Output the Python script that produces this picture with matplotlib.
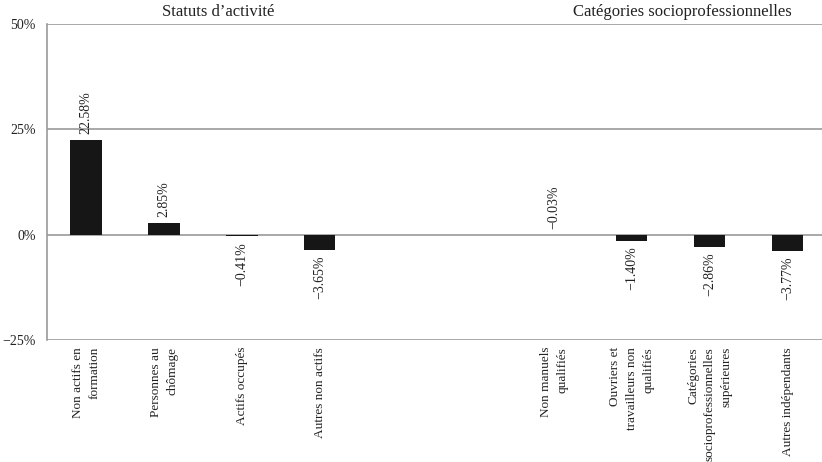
import matplotlib
matplotlib.use("Agg")
import matplotlib.pyplot as plt

categories = ["Non actifs en\nformation", "Personnes au\nchômage", "Actifs occupés", "Autres non actifs",
              "", "",
              "Non manuels\nqualifiés", "Ouvriers et\ntravailleurs non\nqualifiés",
              "Catégories\nsocioprofessionnelles\nsupérieures", "Autres indépendants"]
values = [22.58, 2.85, -0.41, -3.65, None, None, -0.03, -1.40, -2.86, -3.77]
value_labels = ["22.58%", "2.85%", "−0.41%", "−3.65%", "", "", "−0.03%", "−1.40%", "−2.86%", "−3.77%"]
group_titles = ["Statuts d’activité", "Catégories socioprofessionnelles"]
yticks = [-25, 0, 25, 50]
ytick_labels = ["−25%", "0%", "25%", "50%"]

plt.rcParams['font.family'] = ['Liberation Serif', 'DejaVu Serif']

fig = plt.figure(figsize=(8.22, 4.62), dpi=100)
ax = fig.add_axes([0.0572, 0.264, 0.9428, 0.684])

xs = [i for i, v in enumerate(values) if v is not None]
vs = [v for v in values if v is not None]
ax.bar(xs, vs, width=0.4, color="#161616", zorder=3)

for i, v in enumerate(values):
    if v is None:
        continue
    if v >= -0.05:
        ax.annotate(value_labels[i], (i, max(v, 0)), xytext=(0, 4), textcoords="offset points",
                    rotation=90, ha="center", va="bottom", fontsize=10, color="#222222")
    else:
        ax.annotate(value_labels[i], (i, v), xytext=(0, -4), textcoords="offset points",
                    rotation=90, ha="center", va="top", fontsize=10, color="#222222")

ax.set_xlim(-0.5, 9.44)
ax.set_ylim(-25, 50)
ax.set_yticks(yticks)
ax.set_yticklabels(ytick_labels, fontsize=10, color="#222222")
ax.set_xticks(range(len(categories)))
ax.set_xticklabels(categories, rotation=90, fontsize=9.5, color="#222222", va="top", ha="center",
                   multialignment="right", linespacing=1.5)
ax.tick_params(axis="y", length=0, pad=8)
ax.tick_params(axis="x", length=0, pad=5)

ax.grid(axis="y", color="#9a9a9a", linewidth=1.2, zorder=0)
for s in ["top", "right", "bottom"]:
    ax.spines[s].set_visible(False)
ax.spines["left"].set_color("#9a9a9a")
ax.spines["left"].set_linewidth(1.2)

ax.annotate(group_titles[0], (1.7, 50), xytext=(0, 3), textcoords="offset points",
            ha="center", va="bottom", fontsize=12, color="#222222", annotation_clip=False)
ax.annotate(group_titles[1], (7.65, 50), xytext=(0, 3), textcoords="offset points",
            ha="center", va="bottom", fontsize=12, color="#222222", annotation_clip=False)

fig.savefig("out.png", dpi=100)
